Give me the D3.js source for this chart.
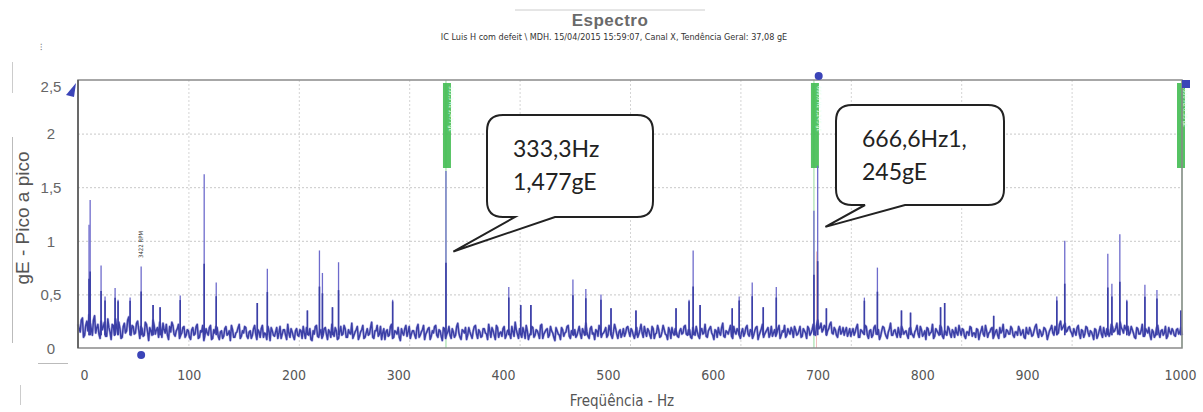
<!DOCTYPE html>
<html><head><meta charset="utf-8">
<script src="https://cdn.jsdelivr.net/npm/d3@7"></script>
<style>body{margin:0;background:#fff}svg{display:block}</style>
</head><body>
<script>
// ---------- DATA ----------
const xTicks = [0,100,200,300,400,500,600,700,800,900,1000];
const yTicks = [0,0.5,1,1.5,2,2.5];
// noise floor at even Hz (0,2,4,...,1000)
const noiseEven = [
0.22,0.15,0.28,0.12,0.25,0.31,0.18,0.26,0.14,0.22,0.09,0.17,0.24,0.11,0.19,0.08,0.21,0.27,0.13,0.18,0.10,0.23,0.16,0.29,0.12,
0.20,0.14,0.25,0.09,0.18,0.12,0.22,0.07,0.16,0.26,0.13,0.19,0.24,0.10,0.17,0.22,0.08,0.15,0.21,0.11,0.18,0.09,0.14,0.20,0.12,
0.16,0.08,0.19,0.13,0.22,0.10,0.15,0.07,0.18,0.12,0.21,0.09,0.14,0.19,0.08,0.16,0.11,0.20,0.13,0.07,0.17,0.10,0.15,0.22,0.11,
0.14,0.19,0.09,0.16,0.12,0.21,0.08,0.15,0.18,0.10,0.13,0.20,0.07,0.16,0.11,0.19,0.14,0.09,0.17,0.12,0.22,0.10,0.15,0.08,0.18,
0.11,0.16,0.20,0.09,0.14,0.18,0.07,0.13,0.21,0.10,0.17,0.12,0.19,0.08,0.15,0.22,0.11,0.16,0.09,0.20,0.13,0.18,0.10,0.14,0.23,
0.12,0.17,0.08,0.15,0.21,0.10,0.18,0.13,0.24,0.09,0.16,0.11,0.20,0.14,0.08,0.17,0.12,0.22,0.10,0.15,0.19,0.07,0.14,0.18,0.11,
0.20,0.13,0.16,0.09,0.22,0.12,0.17,0.08,0.15,0.19,0.11,0.14,0.21,0.10,0.16,0.07,0.18,0.13,0.20,0.09,0.15,0.12,0.23,0.10,0.17,
0.14,0.08,0.19,0.12,0.16,0.21,0.09,0.15,0.11,0.18,0.13,0.22,0.10,0.16,0.08,0.19,0.14,0.11,0.20,0.12,0.17,0.09,0.15,0.24,0.13,
0.18,0.10,0.15,0.21,0.08,0.14,0.19,0.12,0.16,0.09,0.22,0.13,0.17,0.10,0.20,0.14,0.07,0.16,0.12,0.19,0.11,0.15,0.21,0.09,0.14,
0.17,0.12,0.20,0.09,0.15,0.23,0.11,0.18,0.13,0.08,0.16,0.21,0.10,0.14,0.19,0.12,0.17,0.09,0.22,0.13,0.15,0.10,0.18,0.14,0.20,
0.11,0.16,0.09,0.19,0.13,0.22,0.10,0.15,0.18,0.12,0.20,0.09,0.14,0.17,0.11,0.21,0.13,0.08,0.16,0.19,0.12,0.15,0.10,0.18,0.14,
0.21,0.12,0.17,0.09,0.15,0.20,0.11,0.16,0.13,0.22,0.10,0.18,0.14,0.08,0.16,0.19,0.12,0.23,0.10,0.15,0.17,0.11,0.20,0.13,0.16,
0.09,0.18,0.14,0.21,0.11,0.16,0.12,0.19,0.08,0.15,0.22,0.13,0.17,0.10,0.20,0.14,0.11,0.18,0.09,0.16,0.21,0.12,0.15,0.19,0.10,
0.17,0.13,0.20,0.11,0.16,0.09,0.18,0.14,0.22,0.12,0.26,0.19,0.15,0.21,0.12,0.18,0.24,0.13,0.17,0.10,0.20,0.15,0.12,0.19,0.14,
0.11,0.18,0.15,0.22,0.10,0.16,0.13,0.20,0.09,0.17,0.12,0.21,0.14,0.08,0.16,0.19,0.11,0.15,0.23,0.12,0.17,0.10,0.14,0.20,0.13,
0.16,0.09,0.19,0.12,0.15,0.21,0.10,0.17,0.13,0.08,0.18,0.14,0.22,0.11,0.16,0.12,0.19,0.09,0.15,0.20,0.13,0.17,0.10,0.14,0.21,
0.12,0.17,0.09,0.15,0.20,0.11,0.14,0.18,0.08,0.16,0.13,0.21,0.10,0.15,0.19,0.12,0.17,0.09,0.14,0.22,0.11,0.16,0.13,0.18,0.10,
0.15,0.20,0.12,0.17,0.09,0.14,0.19,0.11,0.16,0.22,0.10,0.15,0.13,0.18,0.08,0.16,0.21,0.12,0.17,0.14,0.25,0.19,0.23,0.16,0.20,
0.14,0.18,0.12,0.21,0.09,0.16,0.13,0.19,0.11,0.15,0.08,0.17,0.12,0.20,0.10,0.14,0.18,0.11,0.22,0.15,0.19,0.13,0.24,0.17,0.21,
0.16,0.12,0.20,0.14,0.09,0.18,0.13,0.22,0.11,0.16,0.19,0.08,0.15,0.12,0.21,0.10,0.17,0.14,0.09,0.19,0.13,0.16,0.11,0.18,0.15,
0.12
];
// noise floor at odd Hz (1,3,5,...,999)
const noiseOdd = [
0.18,0.26,0.10,0.21,0.16,0.24,0.12,0.30,0.19,0.13,0.25,0.20,0.11,0.27,0.15,0.22,0.12,0.19,0.24,0.09,0.20,0.14,0.26,0.17,0.21,
0.13,0.23,0.17,0.20,0.11,0.24,0.15,0.19,0.12,0.21,0.17,0.10,0.18,0.23,0.14,0.12,0.20,0.24,0.13,0.16,0.22,0.12,0.19,0.10,0.17,
0.10,0.17,0.12,0.20,0.09,0.16,0.21,0.12,0.14,0.19,0.08,0.17,0.20,0.11,0.15,0.09,0.18,0.12,0.16,0.21,0.10,0.14,0.19,0.09,0.16,
0.20,0.11,0.15,0.09,0.18,0.13,0.17,0.10,0.21,0.14,0.08,0.16,0.19,0.12,0.15,0.09,0.20,0.13,0.17,0.08,0.14,0.18,0.11,0.16,0.12,
0.17,0.09,0.14,0.19,0.12,0.08,0.16,0.20,0.11,0.15,0.09,0.18,0.13,0.17,0.10,0.14,0.19,0.08,0.15,0.12,0.21,0.10,0.17,0.13,0.09,
0.15,0.20,0.11,0.17,0.09,0.14,0.12,0.19,0.10,0.16,0.21,0.13,0.08,0.18,0.15,0.11,0.20,0.09,0.16,0.13,0.10,0.18,0.12,0.21,0.15,
0.09,0.16,0.12,0.19,0.10,0.15,0.21,0.13,0.18,0.08,0.16,0.20,0.12,0.17,0.11,0.19,0.09,0.15,0.12,0.18,0.10,0.20,0.14,0.08,0.16,
0.19,0.12,0.15,0.09,0.20,0.13,0.17,0.10,0.18,0.14,0.08,0.16,0.19,0.12,0.21,0.10,0.15,0.18,0.09,0.16,0.13,0.20,0.11,0.17,0.09,
0.13,0.19,0.09,0.16,0.12,0.20,0.10,0.17,0.13,0.21,0.09,0.15,0.18,0.12,0.16,0.10,0.19,0.13,0.08,0.17,0.14,0.20,0.11,0.16,0.12,
0.10,0.16,0.13,0.18,0.12,0.15,0.09,0.20,0.14,0.17,0.11,0.19,0.13,0.16,0.10,0.21,0.12,0.15,0.18,0.09,0.17,0.13,0.11,0.19,0.15,
0.18,0.12,0.15,0.10,0.17,0.14,0.20,0.11,0.16,0.09,0.18,0.13,0.21,0.10,0.15,0.17,0.12,0.19,0.09,0.14,0.18,0.11,0.16,0.13,0.20,
0.13,0.17,0.10,0.19,0.12,0.15,0.09,0.18,0.14,0.11,0.16,0.20,0.12,0.17,0.10,0.14,0.19,0.11,0.16,0.13,0.21,0.09,0.15,0.18,0.12,
0.15,0.11,0.19,0.13,0.17,0.09,0.16,0.20,0.12,0.18,0.10,0.15,0.19,0.13,0.11,0.17,0.14,0.21,0.12,0.15,0.10,0.18,0.13,0.16,0.20,
0.12,0.16,0.10,0.18,0.14,0.20,0.12,0.17,0.15,0.21,0.18,0.23,0.17,0.20,0.16,0.22,0.14,0.19,0.12,0.17,0.13,0.19,0.16,0.11,0.18,
0.15,0.12,0.19,0.10,0.17,0.14,0.21,0.12,0.16,0.10,0.19,0.13,0.17,0.11,0.20,0.14,0.09,0.18,0.12,0.16,0.13,0.19,0.10,0.17,0.15,
0.12,0.18,0.14,0.10,0.17,0.13,0.20,0.11,0.16,0.19,0.12,0.15,0.09,0.18,0.14,0.21,0.11,0.16,0.12,0.18,0.10,0.15,0.19,0.12,0.16,
0.18,0.11,0.15,0.12,0.19,0.14,0.10,0.17,0.13,0.20,0.11,0.16,0.14,0.18,0.09,0.15,0.12,0.19,0.16,0.10,0.17,0.13,0.20,0.12,0.15,
0.12,0.17,0.14,0.10,0.19,0.13,0.16,0.12,0.20,0.14,0.17,0.11,0.19,0.15,0.12,0.18,0.14,0.20,0.13,0.22,0.17,0.21,0.15,0.19,0.16,
0.11,0.15,0.19,0.13,0.17,0.10,0.20,0.14,0.16,0.12,0.18,0.09,0.16,0.13,0.19,0.11,0.17,0.14,0.20,0.16,0.23,0.15,0.19,0.14,0.18,
0.20,0.14,0.17,0.10,0.19,0.13,0.16,0.11,0.18,0.14,0.12,0.17,0.10,0.19,0.14,0.16,0.12,0.20,0.11,0.15,0.18,0.12,0.17,0.13,0.19
];
const peakFreq = [10,11,20.9,24.5,33.6,36.3,47.2,57.2,68,74.4,92.6,114.3,125.2,162.4,171.5,207.8,218.7,221.4,230.5,236,285,
  333.3,390.2,401,410.2,448.3,460,473.7,482.8,505.4,541.7,553.5,557.2,563.5,592.6,598.9,610.7,620.7,632.5,666.6,670,677.9,
  712.3,724.1,745.9,754.1,781.3,785,829.4,886.6,893.8,932.8,936.5,943.7,950,966.4,977.3,999];
const peakAmp  = [1.15,1.38,0.77,0.48,0.56,0.45,0.47,0.76,0.40,0.38,0.49,1.62,0.61,0.42,0.74,0.35,0.91,0.70,0.38,0.80,0.45,
  1.65,0.57,0.40,0.40,0.64,0.55,0.50,0.37,0.35,0.37,0.45,0.91,0.40,0.37,0.48,0.61,0.38,0.57,1.28,1.70,0.37,
  0.47,0.75,0.35,0.33,0.38,0.42,0.30,0.48,1.00,0.88,0.60,1.06,0.45,0.59,0.54,0.35];
const markerFreq = [333.3, 666.6, 1000];
const markerText = ["333,3 Hz  1,477 gE", "666,6 Hz  1,245 gE", "1000 Hz  0,35 gE"];
const callouts = [
  {lines:["333,3Hz","1,477gE"], f:340, a:0.9},
  {lines:["666,6Hz1,","245gE"], f:677, a:1.13}
];
const rpmLabel = {f:57.2, text:"3422 RPM"};

// ---------- CHART ----------
const W=1203,H=412;
const svg=d3.select("body").append("svg").attr("width",W).attr("height",H);
const x=d3.scaleLinear().domain([0,1000]).range([78,1182]);
const y=d3.scaleLinear().domain([0,2.5]).range([348,80]);
// tick labels in the source image sit on a slightly compressed ruler
const xLab=d3.scaleLinear().domain([0,900,1000]).range([84,1027,1180]);
const narrow="DejaVu Sans Condensed, Liberation Sans Narrow, Liberation Sans, Arial";

// decorations outside plot
svg.append("line").attr("x1",515).attr("x2",705).attr("y1",10).attr("y2",10).attr("stroke","#ccc");
svg.append("text").attr("x",610).attr("y",26).attr("text-anchor","middle")
  .attr("font-family","Liberation Sans, Arial").attr("font-weight","bold").attr("font-size",17)
  .attr("letter-spacing",0.5).attr("fill","#6a6a6a").text("Espectro");
svg.append("text").attr("x",614).attr("y",40).attr("text-anchor","middle")
  .attr("font-family",narrow).attr("font-stretch","condensed").attr("font-size",9)
  .attr("fill","#333").text("IC  Luis H  com defeit \\ MDH. 15/04/2015 15:59:07, Canal X, Tendência Geral: 37,08 gE");
svg.append("text").attr("x",40).attr("y",50).attr("font-size",9).attr("fill","#777").text("⁝");
svg.append("line").attr("x1",12.5).attr("x2",12.5).attr("y1",62).attr("y2",93).attr("stroke","#ccc");
svg.append("line").attr("x1",12.5).attr("x2",12.5).attr("y1",137).attr("y2",343).attr("stroke","#bbb");
svg.append("line").attr("x1",38).attr("x2",68).attr("y1",363.5).attr("y2",363.5).attr("stroke","#bbb");
svg.append("line").attr("x1",20.5).attr("x2",20.5).attr("y1",385).attr("y2",405).attr("stroke","#ccc");

// gridlines
const grid=svg.append("g");
grid.selectAll(".hg").data(yTicks.filter(d=>d>0&&d<2.5)).join("line")
  .attr("x1",x(0)).attr("x2",x(1000)).attr("y1",d=>y(d)+0.5).attr("y2",d=>y(d)+0.5)
  .attr("stroke","#c8c8c8").attr("stroke-dasharray","2,2");
grid.selectAll(".vg").data(xTicks.filter(d=>d>0&&d<1000)).join("line")
  .attr("x1",d=>x(d)+0.5).attr("x2",d=>x(d)+0.5).attr("y1",y(2.5)).attr("y2",y(0))
  .attr("stroke","#d4d4d4").attr("stroke-dasharray","2,2");

// marker lines (green)
const mk=svg.append("g");
mk.selectAll("line").data(markerFreq).join("line")
  .attr("x1",d=>x(d)).attr("x2",d=>x(d)).attr("y1",y(2.5)).attr("y2",y(0))
  .attr("stroke","#a6dfac").attr("stroke-width",1.2);

// red cursor line
svg.append("line").attr("x1",x(669)).attr("x2",x(669)).attr("y1",y(0.9)).attr("y2",y(0))
  .attr("stroke","#e07070").attr("stroke-width",0.7).attr("opacity",0.7);

// spectrum
const noisePts = noiseEven.map((v,i)=>[i*2,v]).concat(noiseOdd.map((v,i)=>[i*2+1,v])).sort((a,b)=>a[0]-b[0]);
const peaks = peakFreq.map((f,i)=>[f,peakAmp[i]]);
const line=d3.line().x(d=>x(d[0])).y(d=>y(d[1]));
svg.append("path").datum(noisePts).attr("d",line)
  .attr("fill","none").attr("stroke","#8a88d6").attr("stroke-width",2.6).attr("stroke-linejoin","round").attr("opacity",0.6);
// peaks: light purple sticks with a darker lower part
svg.append("g").selectAll("line").data(peaks).join("line")
  .attr("x1",d=>x(d[0])).attr("x2",d=>x(d[0])).attr("y1",d=>y(d[1])).attr("y2",y(0.12))
  .attr("stroke","#6e6bcc").attr("stroke-width",1.3);
svg.append("g").selectAll("line").data(peaks).join("line")
  .attr("x1",d=>x(d[0])).attr("x2",d=>x(d[0])).attr("y1",d=>y(Math.min(d[1],0.3+d[1]*0.3))).attr("y2",y(0.12))
  .attr("stroke","#3b3fa6").attr("stroke-width",1.6);
svg.append("path").datum(noisePts).attr("d",line)
  .attr("fill","none").attr("stroke","#3b3fa6").attr("stroke-width",1.5).attr("stroke-linejoin","round");

// marker label boxes
const mg=mk.append("g");
markerFreq.forEach((f,i)=>{
  const cx=x(f)+ (i==2?-1:1);
  mg.append("rect").attr("x",cx-4).attr("y",83).attr("width",8).attr("height",85)
    .attr("fill","#42bd52").attr("opacity",0.9);
  mg.append("text").attr("transform",`translate(${cx+2},86) rotate(90)`)
    .attr("font-size",5.5).attr("font-family",narrow).attr("fill","#e8ffe8")
    .text(markerText[i]);
});

// frame
svg.append("rect").attr("x",x(0)).attr("y",y(2.5)).attr("width",x(1000)-x(0)).attr("height",y(0)-y(2.5))
  .attr("fill","none").attr("stroke","#8a8a8a").attr("stroke-width",1.5);
svg.append("line").attr("x1",x(0)).attr("x2",x(0)).attr("y1",y(2.5)).attr("y2",y(0)).attr("stroke","#555").attr("stroke-width",1.5);

// rpm label
svg.append("text").attr("transform",`translate(${x(rpmLabel.f)+2},258) rotate(-90)`)
  .attr("font-size",6).attr("font-family",narrow).attr("fill","#333").text(rpmLabel.text);

// cursors
svg.append("path").attr("d","M66,95 L76,83 L74,97 Z").attr("fill","#3b44b8");
svg.append("circle").attr("cx",x(57.2)).attr("cy",355).attr("r",4).attr("fill","#3b44b8");
svg.append("circle").attr("cx",x(670)+1).attr("cy",76).attr("r",4).attr("fill","#3b44b8");
svg.append("rect").attr("x",1182).attr("y",80).attr("width",8).attr("height",8).attr("fill","#3b44b8");

// axes
const fmt=d=>String(d).replace(".",",");
const yAx=svg.append("g").attr("transform","translate(58,0)")
  .call(d3.axisLeft(y).tickValues(yTicks).tickSize(0).tickPadding(0).tickFormat(fmt));
yAx.select(".domain").remove();
yAx.selectAll("text").attr("font-size",15).attr("font-family","Liberation Sans, Arial")
  .attr("fill","#666").attr("text-anchor","middle").attr("x",-7).attr("dy",d=>d==2.5?"0.75em":"0.35em");
const xAx=svg.append("g").attr("transform","translate(0,370)")
  .call(d3.axisBottom(xLab).tickValues(xTicks).tickSize(0).tickPadding(0).tickFormat(d=>String(d)));
xAx.select(".domain").remove();
xAx.selectAll("text").attr("font-size",14).attr("font-family",narrow).attr("font-stretch","condensed")
  .attr("fill","#555").attr("dy","0.7em");

svg.append("text").attr("transform","translate(29,218) rotate(-90)").attr("text-anchor","middle")
  .attr("font-size",19).attr("font-family","Liberation Sans, Arial").attr("fill","#555").text("gE - Pico a pico");
svg.append("text").attr("x",622).attr("y",406).attr("text-anchor","middle")
  .attr("font-size",15).attr("font-family",narrow).attr("font-stretch","condensed").attr("fill","#555")
  .text("Freqüência - Hz");

// callouts
const boxes=[{x0:487,y0:115,x1:653,y1:217,t1:515,t2:555},{x0:836,y0:105,x1:1004,y1:205,t1:865,t2:905}];
callouts.forEach((c,i)=>{
  const b=boxes[i], r=16, tx=x(c.f), ty=y(c.a);
  const d=`M${b.x0+r},${b.y0} H${b.x1-r} Q${b.x1},${b.y0} ${b.x1},${b.y0+r} V${b.y1-r} Q${b.x1},${b.y1} ${b.x1-r},${b.y1} H${b.t2} L${tx},${ty} L${b.t1},${b.y1} H${b.x0+r} Q${b.x0},${b.y1} ${b.x0},${b.y1-r} V${b.y0+r} Q${b.x0},${b.y0} ${b.x0+r},${b.y0} Z`;
  svg.append("path").attr("d",d).attr("fill","#fff").attr("stroke","#222").attr("stroke-width",2);
  c.lines.forEach((l,j)=>{
    svg.append("text").attr("x",b.x0+26).attr("y",b.y0+42+j*33)
      .attr("font-family","Lato, Open Sans, sans-serif").attr("font-size",23).attr("fill","#222").text(l);
  });
});
</script>
</body></html>
